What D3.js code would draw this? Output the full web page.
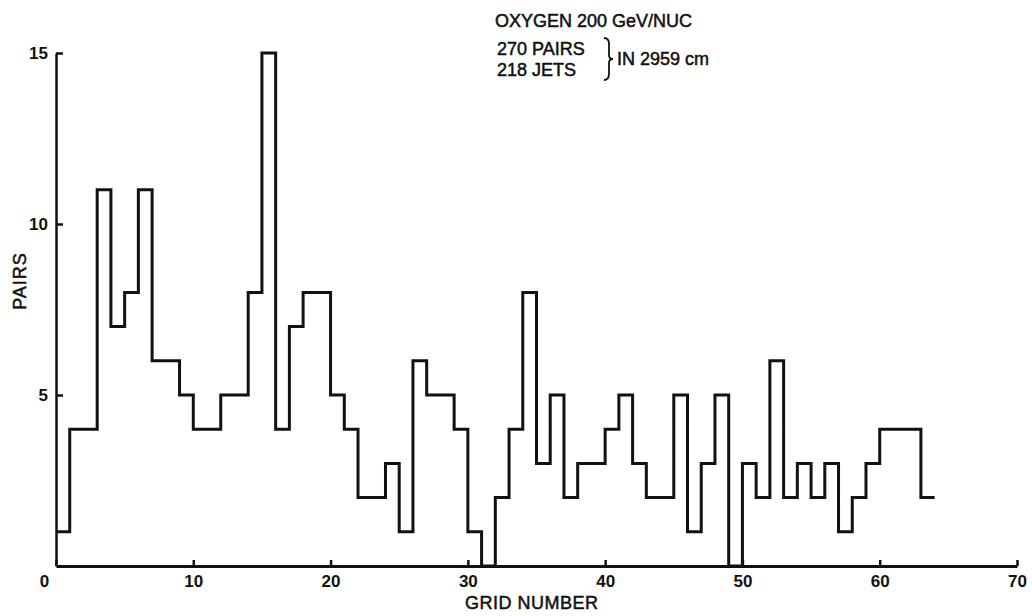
<!DOCTYPE html>
<html>
<head>
<meta charset="utf-8">
<script src="https://cdn.jsdelivr.net/npm/d3@7"></script>
<style>
  body { margin: 0; background: #fff; }
  svg { display: block; font-family: "Liberation Sans", Arial, sans-serif; }
</style>
</head>
<body>
<svg id="chart"></svg>
<script>
// pairs per grid number (bins 0..63)
const gridNumbers = d3.range(0, 64);
const pairs = [
  1, 4, 4, 11, 7, 8, 11, 6, 6, 5,
  4, 4, 5, 5, 8, 15, 4, 7, 8, 8,
  5, 4, 2, 2, 3, 1, 6, 5, 5, 4,
  1, 0, 2, 4, 8, 3, 5, 2, 3, 3,
  4, 5, 3, 2, 2, 5, 1, 3, 5, 0,
  3, 2, 6, 2, 3, 2, 3, 1, 2, 3,
  4, 4, 4, 2
];
const xTicks = [0, 10, 20, 30, 40, 50, 60, 70];
const yTicks = [5, 10, 15];
const titleLine = "OXYGEN 200 GeV/NUC";
const countLines = ["270 PAIRS", "218 JETS"];
const lengthNote = "IN 2959 cm";

// graph dimensions
const width = 1032;
const height = 616;
const ink = "#111";

const svg = d3.select("#chart").attr("width", width).attr("height", height);

const xScale = d3.scaleLinear().domain([0, 70]).range([56, 1017]);
const yScale = d3.scaleLinear().domain([0, 15]).range([566, 53]);

// x axis, ticks pointing up into the plot
const xAxis = svg.append("g")
  .attr("transform", "translate(0," + yScale(0) + ")")
  .call(d3.axisBottom(xScale).tickValues(xTicks).tickSize(-6).tickSizeOuter(0).tickPadding(9));
xAxis.select(".domain").attr("stroke", ink).attr("stroke-width", 3);
xAxis.selectAll(".tick line").attr("stroke", ink).attr("stroke-width", 2.5);
xAxis.selectAll(".tick text")
  .attr("fill", ink)
  .attr("font-size", 17)
  .attr("font-weight", "bold")
  .attr("font-family", "Liberation Sans, Arial, sans-serif");
xAxis.selectAll(".tick").filter(d => d === 0).select("text").attr("x", -12);

// y axis, ticks pointing right
const yAxis = svg.append("g")
  .attr("transform", "translate(" + xScale(0) + ",0)")
  .call(d3.axisLeft(yScale).tickValues(yTicks).tickSize(-7).tickSizeOuter(0).tickPadding(8));
yAxis.select(".domain").attr("stroke", ink).attr("stroke-width", 2.5);
yAxis.selectAll(".tick line").attr("stroke", ink).attr("stroke-width", 2.5);
yAxis.selectAll(".tick text")
  .attr("fill", ink)
  .attr("font-size", 17)
  .attr("font-weight", "bold")
  .attr("font-family", "Liberation Sans, Arial, sans-serif");

// axis titles
svg.append("text")
  .attr("x", 465)
  .attr("y", 609)
  .attr("font-size", 18)
  .attr("letter-spacing", 0.5)
  .attr("fill", ink)
  .attr("stroke", ink)
  .attr("stroke-width", 0.5)
  .text("GRID NUMBER");

svg.append("text")
  .attr("transform", "translate(26,281) rotate(-90)")
  .attr("text-anchor", "middle")
  .attr("font-size", 18)
  .attr("letter-spacing", 1)
  .attr("fill", ink)
  .attr("stroke", ink)
  .attr("stroke-width", 0.5)
  .text("PAIRS");

// histogram outline
const stepPoints = gridNumbers.map((g, i) => [g, pairs[i]]);
stepPoints.push([gridNumbers.length, pairs[pairs.length - 1]]);

const line = d3.line()
  .x(d => xScale(d[0]))
  .y(d => yScale(d[1]))
  .curve(d3.curveStepAfter);

svg.append("path")
  .datum(stepPoints)
  .attr("d", line)
  .attr("fill", "none")
  .attr("stroke", ink)
  .attr("stroke-width", 3)
  .attr("stroke-linejoin", "miter");

// annotation
const note = svg.append("g")
  .attr("font-size", 18)
  .attr("fill", ink)
  .attr("stroke", ink)
  .attr("stroke-width", 0.5);

note.append("text").attr("x", 495).attr("y", 27).text(titleLine);
note.selectAll(".count")
  .data(countLines)
  .enter()
  .append("text")
  .attr("class", "count")
  .attr("x", 497)
  .attr("y", (d, i) => 55 + i * 21)
  .text(d => d);
note.append("text").attr("x", 617).attr("y", 65).text(lengthNote);

// curly brace
const bx = 604, by0 = 38, by1 = 80, bm = (by0 + by1) / 2;
svg.append("path")
  .attr("d",
    "M" + bx + "," + by0 +
    " Q" + (bx + 5) + "," + by0 + " " + (bx + 5) + "," + (by0 + 6) +
    " L" + (bx + 5) + "," + (bm - 4) +
    " Q" + (bx + 5) + "," + bm + " " + (bx + 9) + "," + bm +
    " Q" + (bx + 5) + "," + bm + " " + (bx + 5) + "," + (bm + 4) +
    " L" + (bx + 5) + "," + (by1 - 6) +
    " Q" + (bx + 5) + "," + by1 + " " + bx + "," + by1)
  .attr("fill", "none")
  .attr("stroke", ink)
  .attr("stroke-width", 1.8);
</script>
</body>
</html>
